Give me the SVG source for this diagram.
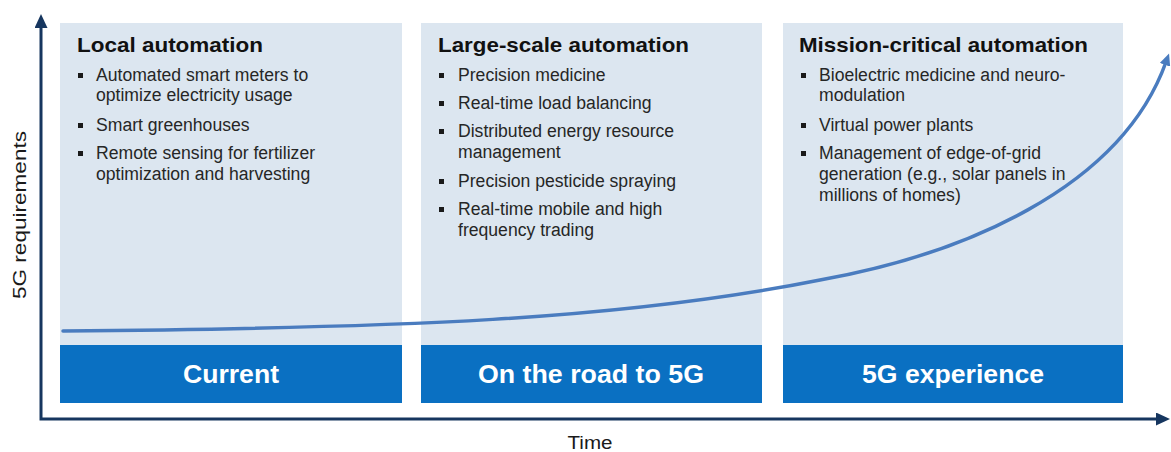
<svg xmlns="http://www.w3.org/2000/svg" width="1171" height="452" viewBox="0 0 1171 452">
  <style>
    .panel { fill: #dce6f0; }
    .band { fill: #0a70c2; }
    .title { font-family: "Liberation Sans", Arial, sans-serif; font-weight: bold; font-size: 21px; fill: #111111; }
    .item { font-family: "Liberation Sans", Arial, sans-serif; font-size: 17.6px; fill: #262626; }
    .bullet { fill: #1a1a1a; }
    .stage { font-family: "Liberation Sans", Arial, sans-serif; font-weight: bold; font-size: 25px; fill: #ffffff; text-anchor: middle; }
    .axislabel { font-family: "Liberation Sans", Arial, sans-serif; font-size: 18px; fill: #1a1a1a; text-anchor: middle; }
    .axis { fill: none; stroke: #16365f; stroke-width: 3; }
    .trend { fill: none; stroke: #4a7cbf; stroke-width: 3.5; stroke-linecap: round; }
  </style>
  <defs>
    <marker id="axisHead" markerUnits="userSpaceOnUse" markerWidth="15" markerHeight="13" refX="2" refY="6.5" orient="auto-start-reverse">
      <path d="M0,0 L14,6.5 L0,13 z" fill="#16365f"/>
    </marker>
    <marker id="trendHead" markerUnits="userSpaceOnUse" markerWidth="13" markerHeight="11" refX="3" refY="5.5" orient="auto">
      <path d="M0,0 L12,5.5 L0,11 z" fill="#4a7cbf"/>
    </marker>
  </defs>

  <!-- Stage 1: current -->
  <g id="local-automation">
    <rect class="panel" x="60" y="23" width="342" height="322"/>
    <rect class="band" x="60" y="345" width="342" height="58"/>
    <text class="title" x="77" y="52" textLength="186" lengthAdjust="spacingAndGlyphs">Local automation</text>
    <rect class="bullet" x="78" y="73" width="5" height="5"/>
    <text class="item" x="96" y="81">Automated  smart meters to</text>
    <text class="item" x="96" y="101">optimize electricity usage</text>
    <rect class="bullet" x="78" y="123" width="5" height="5"/>
    <text class="item" x="96" y="131">Smart greenhouses</text>
    <rect class="bullet" x="78" y="151" width="5" height="5"/>
    <text class="item" x="96" y="159">Remote sensing for fertilizer</text>
    <text class="item" x="96" y="180">optimization and harvesting</text>
    <text class="stage" x="231" y="383" textLength="96" lengthAdjust="spacingAndGlyphs">Current</text>
  </g>

  <!-- Stage 2: on the road to 5G -->
  <g id="large-scale-automation">
    <rect class="panel" x="421" y="23" width="341" height="322"/>
    <rect class="band" x="421" y="345" width="341" height="58"/>
    <text class="title" x="438" y="52" textLength="251" lengthAdjust="spacingAndGlyphs">Large-scale automation</text>
    <rect class="bullet" x="439" y="73" width="5" height="5"/>
    <text class="item" x="458" y="81">Precision medicine</text>
    <rect class="bullet" x="439" y="101" width="5" height="5"/>
    <text class="item" x="458" y="109">Real-time load balancing</text>
    <rect class="bullet" x="439" y="129" width="5" height="5"/>
    <text class="item" x="458" y="137">Distributed energy resource</text>
    <text class="item" x="458" y="158">management</text>
    <rect class="bullet" x="439" y="179" width="5" height="5"/>
    <text class="item" x="458" y="187">Precision pesticide spraying</text>
    <rect class="bullet" x="439" y="207" width="5" height="5"/>
    <text class="item" x="458" y="215">Real-time mobile and high</text>
    <text class="item" x="458" y="236">frequency trading</text>
    <text class="stage" x="591" y="383" textLength="226" lengthAdjust="spacingAndGlyphs">On the road to 5G</text>
  </g>

  <!-- Stage 3: 5G experience -->
  <g id="mission-critical-automation">
    <rect class="panel" x="783" y="23" width="340" height="322"/>
    <rect class="band" x="783" y="345" width="340" height="58"/>
    <text class="title" x="799" y="52" textLength="289" lengthAdjust="spacingAndGlyphs">Mission-critical automation</text>
    <rect class="bullet" x="801" y="73" width="5" height="5"/>
    <text class="item" x="819" y="81">Bioelectric medicine and neuro-</text>
    <text class="item" x="819" y="101">modulation</text>
    <rect class="bullet" x="801" y="123" width="5" height="5"/>
    <text class="item" x="819" y="131">Virtual power plants</text>
    <rect class="bullet" x="801" y="151" width="5" height="5"/>
    <text class="item" x="819" y="159">Management of edge-of-grid</text>
    <text class="item" x="819" y="180">generation (e.g., solar panels in</text>
    <text class="item" x="819" y="201">millions of homes)</text>
    <text class="stage" x="953" y="383" textLength="182" lengthAdjust="spacingAndGlyphs">5G experience</text>
  </g>

  <!-- Axis titles -->
  <g id="axis-labels">
    <text class="axislabel" x="590" y="449" textLength="45" lengthAdjust="spacingAndGlyphs">Time</text>
    <text class="axislabel" transform="translate(26,215) rotate(-90)" x="0" y="0" textLength="168" lengthAdjust="spacingAndGlyphs">5G requirements</text>
  </g>

  <!-- Axes and growth curve -->
  <g id="connectors">
    <path class="axis" d="M41,26 V419 H1158" marker-start="url(#axisHead)" marker-end="url(#axisHead)"/>
    <path class="trend" d="M63,331 C400,328 620,320 820,280 C960,255 1120,190 1166,62" marker-end="url(#trendHead)"/>
  </g>
</svg>
